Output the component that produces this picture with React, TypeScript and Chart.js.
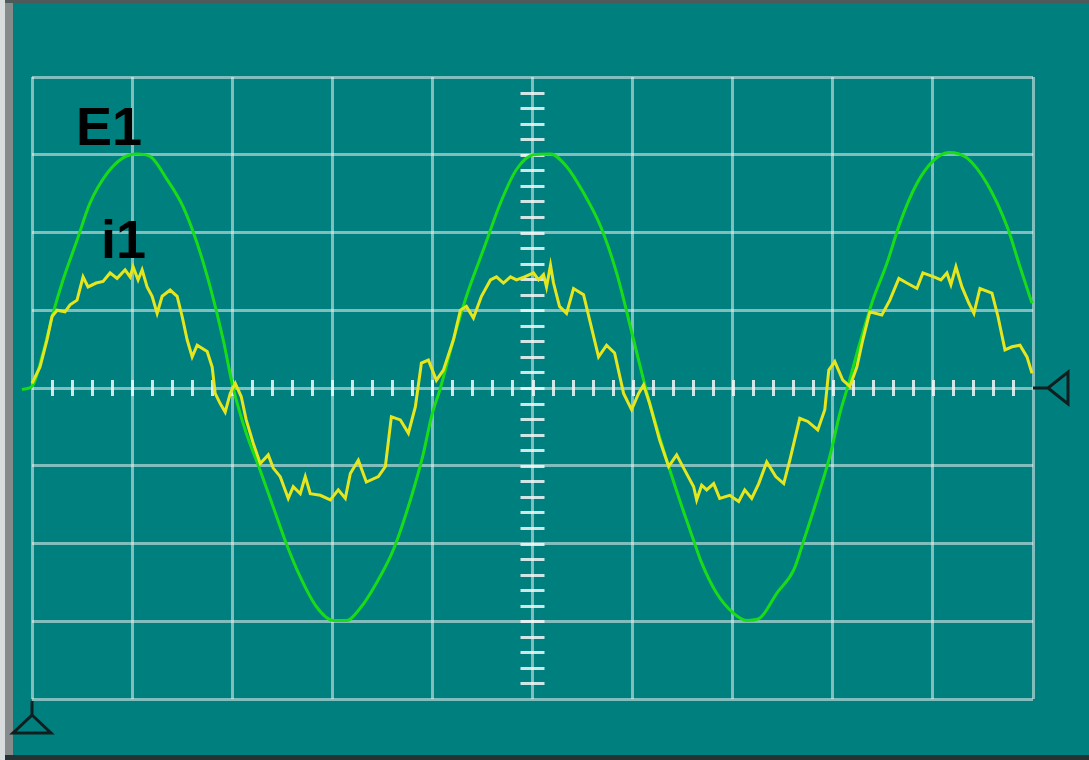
import React, { useEffect, useRef } from "react";
import { Chart, registerables } from "chart.js";

Chart.register(...registerables);

// Time axis in divisions (0..10), amplitude in divisions (-4..4)
const xDivisions = [0, 10];
const yDivisions = [-4, 4];

const e1X = [
  -0.19, -0.1, 0, 0.11, 0.21, 0.31, 0.45, 0.58, 0.75, 0.91,
  1.05, 1.18, 1.35, 1.51, 1.65, 1.78, 1.91, 2.01, 2.14, 2.28,
  2.41, 2.54, 2.68, 2.84, 3.01, 3.14, 3.28, 3.44, 3.61, 3.78,
  3.91, 3.99, 4.08, 4.21, 4.34, 4.51, 4.68, 4.84, 5.01, 5.18,
  5.34, 5.51, 5.68, 5.84, 6.01, 6.11, 6.17, 6.31, 6.47, 6.61,
  6.69, 6.84, 7.01, 7.14, 7.27, 7.44, 7.61, 7.71, 7.84, 7.97,
  8.07, 8.15, 8.27, 8.4, 8.54, 8.67, 8.84, 9.01, 9.16, 9.34,
  9.54, 9.74, 9.87, 9.99,
];
const e1Y = [
  -0.11, -0.02, 0.02, 0.45, 0.96, 1.39, 1.9, 2.38, 2.76, 2.96,
  3.01, 2.98, 2.68, 2.33, 1.86, 1.3, 0.62, 0.0, -0.58, -1.06,
  -1.53, -2.0, -2.43, -2.81, -2.99, -2.99, -2.83, -2.51, -2.08, -1.44,
  -0.84, -0.37, 0.0, 0.62, 1.18, 1.78, 2.38, 2.81, 3.0, 3.01,
  2.85, 2.51, 2.08, 1.48, 0.62, 0.1, -0.19, -0.8, -1.44, -1.96,
  -2.25, -2.64, -2.9, -2.99, -2.96, -2.64, -2.34, -1.96, -1.44, -0.88,
  -0.33, 0.02, 0.58, 1.13, 1.6, 2.12, 2.63, 2.93, 3.03, 2.96,
  2.63, 2.08, 1.56, 1.09,
];

const i1X = [
  0, 0.08, 0.15, 0.2, 0.25, 0.33, 0.38, 0.45, 0.51, 0.56,
  0.64, 0.71, 0.78, 0.85, 0.93, 0.98, 1.01, 1.06, 1.1, 1.15,
  1.2, 1.25, 1.3, 1.38, 1.45, 1.5, 1.55, 1.6, 1.65, 1.75,
  1.8, 1.83, 1.88, 1.93, 1.98, 2.03, 2.09, 2.14, 2.21, 2.28,
  2.36, 2.41, 2.48, 2.56, 2.61, 2.68, 2.73, 2.78, 2.88, 2.98,
  3.06, 3.13, 3.18, 3.26, 3.34, 3.46, 3.53, 3.59, 3.68, 3.76,
  3.83, 3.89, 3.96, 4.04, 4.11, 4.21, 4.28, 4.34, 4.41, 4.49,
  4.58, 4.64, 4.71, 4.78, 4.84, 4.92, 5.01, 5.06, 5.11, 5.14,
  5.18, 5.21, 5.27, 5.34, 5.41, 5.51, 5.57, 5.66, 5.74, 5.82,
  5.91, 5.99, 6.06, 6.11, 6.17, 6.27, 6.36, 6.44, 6.51, 6.61,
  6.64, 6.69, 6.74, 6.81, 6.87, 6.97, 7.06, 7.12, 7.19, 7.26,
  7.34, 7.43, 7.51, 7.57, 7.67, 7.75, 7.85, 7.92, 7.96, 8.02,
  8.1, 8.17, 8.24, 8.3, 8.37, 8.49, 8.57, 8.66, 8.74, 8.84,
  8.9, 9.01, 9.08, 9.14, 9.18, 9.23, 9.29, 9.36, 9.41, 9.47,
  9.59, 9.65, 9.72, 9.79, 9.87, 9.94, 9.99,
];
const i1Y = [
  0.06, 0.27, 0.62, 0.92, 1.0, 0.98, 1.07, 1.13, 1.43, 1.3,
  1.35, 1.37, 1.48, 1.41, 1.52, 1.43, 1.56, 1.39, 1.52, 1.3,
  1.18, 0.96, 1.18, 1.26, 1.18, 0.92, 0.62, 0.4, 0.55, 0.47,
  0.27, -0.07, -0.2, -0.31, -0.07, 0.06, -0.11, -0.41, -0.71, -0.97,
  -0.86, -1.03, -1.14, -1.42, -1.27, -1.36, -1.14, -1.36, -1.38, -1.44,
  -1.31, -1.42, -1.1, -0.93, -1.21, -1.14, -1.01, -0.37, -0.41, -0.58,
  -0.24, 0.32, 0.36, 0.1, 0.23, 0.62, 1.0, 1.05, 0.9, 1.18,
  1.39, 1.43, 1.35, 1.43, 1.39, 1.43, 1.48, 1.39, 1.46, 1.3,
  1.58, 1.35, 1.05, 0.96, 1.28, 1.2, 0.88, 0.4, 0.55, 0.45,
  -0.07, -0.28, -0.07, 0.04, -0.2, -0.67, -1.01, -0.86, -1.03, -1.27,
  -1.44, -1.25, -1.31, -1.23, -1.42, -1.38, -1.46, -1.31, -1.42, -1.23,
  -0.95, -1.14, -1.23, -0.93, -0.39, -0.43, -0.54, -0.28, 0.23, 0.34,
  0.1, 0.02, 0.27, 0.62, 0.98, 0.94, 1.13, 1.41, 1.35, 1.28,
  1.48, 1.43, 1.39, 1.48, 1.33, 1.56, 1.3, 1.09, 0.96, 1.28,
  1.22, 0.92, 0.49, 0.53, 0.55, 0.4, 0.19,
];

const traceLabels = ["E1", "i1"];
const labelAnchors = [
  { x: 0.44, y: 3.13 },
  { x: 0.69, y: 1.67 },
];

const TEAL = "#007f7f";
const GRID = "rgba(235,240,240,0.55)";
const TICK = "rgba(245,248,248,0.85)";
const MARK = "#0f1f1f";

const scopePlugin = {
  id: "scope",
  beforeDraw(chart: any) {
    const { ctx, width, height } = chart;
    ctx.save();
    ctx.fillStyle = TEAL;
    ctx.fillRect(0, 0, width, height);
    // frame
    ctx.fillStyle = "#d9dcdc";
    ctx.fillRect(0, 0, 5, height);
    ctx.fillStyle = "#858a8a";
    ctx.fillRect(5, 0, 8, height);
    ctx.fillStyle = "#4d5a5a";
    ctx.fillRect(5, 0, width, 3);
    ctx.fillStyle = "#233232";
    ctx.fillRect(5, height - 5, width, 5);
    ctx.restore();
  },
  beforeDatasetsDraw(chart: any) {
    const { ctx } = chart;
    const xs = chart.scales.x;
    const ys = chart.scales.y;
    const y0 = ys.getPixelForValue(0);
    const x0 = xs.getPixelForValue(5);
    ctx.save();
    ctx.strokeStyle = TICK;
    ctx.lineWidth = 3;
    ctx.lineCap = "butt";
    ctx.beginPath();
    for (let k = 1; k < 50; k++) {
      const px = Math.round(xs.getPixelForValue(k / 5)) + 0.5;
      ctx.moveTo(px, y0 - 8);
      ctx.lineTo(px, y0 + 8);
    }
    for (let k = -19; k < 20; k++) {
      const py = Math.round(ys.getPixelForValue(k / 5)) + 0.5;
      ctx.moveTo(x0 - 12, py);
      ctx.lineTo(x0 + 12, py);
    }
    ctx.stroke();
    ctx.restore();
  },
  afterDatasetsDraw(chart: any) {
    const { ctx } = chart;
    const xs = chart.scales.x;
    const ys = chart.scales.y;
    ctx.save();
    ctx.fillStyle = "#000";
    ctx.font = "bold 54px 'Liberation Sans', Arial, sans-serif";
    ctx.textBaseline = "alphabetic";
    traceLabels.forEach((t, i) => {
      ctx.fillText(t, xs.getPixelForValue(labelAnchors[i].x), ys.getPixelForValue(labelAnchors[i].y));
    });
    ctx.restore();
  },
  afterDraw(chart: any) {
    const { ctx } = chart;
    const xs = chart.scales.x;
    const ys = chart.scales.y;
    const right = xs.getPixelForValue(10);
    const left = xs.getPixelForValue(0);
    const bottom = ys.getPixelForValue(-4);
    const y0 = ys.getPixelForValue(0);
    ctx.save();
    ctx.strokeStyle = MARK;
    ctx.lineWidth = 3;
    ctx.lineJoin = "miter";
    // right ground marker
    ctx.beginPath();
    ctx.moveTo(right, y0);
    ctx.lineTo(right + 15, y0);
    ctx.lineTo(right + 35, y0 - 16);
    ctx.lineTo(right + 35, y0 + 16);
    ctx.lineTo(right + 15, y0);
    ctx.stroke();
    // bottom trigger marker
    ctx.beginPath();
    ctx.moveTo(left, bottom + 2);
    ctx.lineTo(left, bottom + 16);
    ctx.lineTo(left - 19, bottom + 34);
    ctx.lineTo(left + 19, bottom + 34);
    ctx.lineTo(left, bottom + 16);
    ctx.stroke();
    ctx.restore();
  },
};

export default function App() {
  const ref = useRef<HTMLCanvasElement | null>(null);

  useEffect(() => {
    document.body.style.margin = "0";
    const canvas = ref.current;
    if (!canvas) return;
    const chart = new Chart(canvas, {
      type: "line",
      data: {
        datasets: [
          {
            label: traceLabels[1],
            data: i1X.map((x, i) => ({ x, y: i1Y[i] })),
            borderColor: "#e6e61e",
            borderWidth: 3,
            pointRadius: 0,
            tension: 0,
            order: 0,
            clip: false as any,
          },
          {
            label: traceLabels[0],
            data: e1X.map((x, i) => ({ x, y: e1Y[i] })),
            borderColor: "#19dc19",
            borderWidth: 3,
            pointRadius: 0,
            cubicInterpolationMode: "monotone",
            order: 1,
            clip: false as any,
          },
        ],
      },
      options: {
        animation: false,
        responsive: false,
        maintainAspectRatio: false,
        devicePixelRatio: 1,
        layout: { padding: { left: 32, right: 56, top: 77, bottom: 61 } },
        plugins: { legend: { display: false }, tooltip: { enabled: false }, title: { display: false } },
        scales: {
          x: {
            type: "linear",
            min: xDivisions[0],
            max: xDivisions[1],
            ticks: { display: false, stepSize: 1 },
            grid: { color: GRID, lineWidth: 3, drawTicks: false },
            border: { display: false },
          },
          y: {
            type: "linear",
            min: yDivisions[0],
            max: yDivisions[1],
            ticks: { display: false, stepSize: 1 },
            grid: { color: GRID, lineWidth: 3, drawTicks: false },
            border: { display: false },
          },
        },
      },
      plugins: [scopePlugin],
    });
    return () => chart.destroy();
  }, []);

  return (
    <div style={{ width: 1089, height: 760, position: "relative" }}>
      <canvas ref={ref} width={1089} height={760} style={{ display: "block" }} />
    </div>
  );
}
